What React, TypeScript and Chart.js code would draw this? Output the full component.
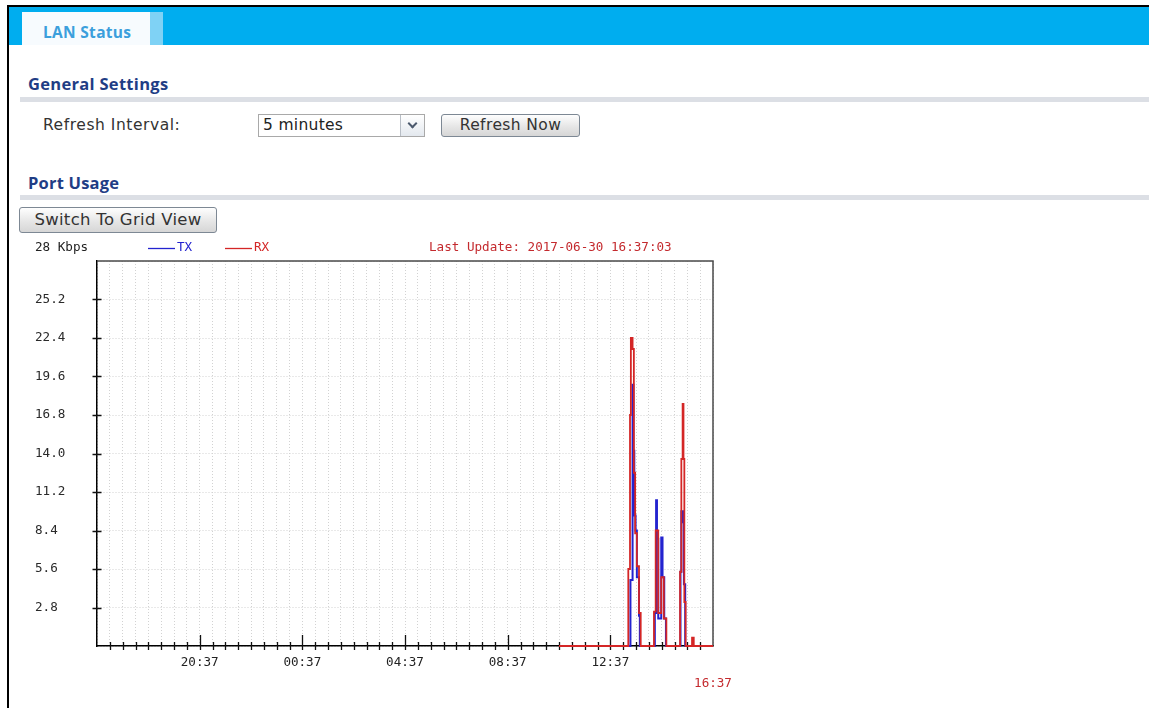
import React, { useEffect, useRef } from 'react';
import { Chart, registerables } from 'chart.js';

Chart.register(...registerables);

// ---- data ----
// x values: minutes since the start of the 24 h window (16:37 of the previous day)
const xTickLabels = ['20:37', '00:37', '04:37', '08:37', '12:37', '16:37'];
const yTickValues = [0, 2.8, 5.6, 8.4, 11.2, 14.0, 16.8, 19.6, 22.4, 25.2, 28];

const txMinutes = [1080, 1247, 1252, 1254, 1256, 1259, 1262, 1267, 1269, 1304, 1307, 1309, 1312, 1319, 1322, 1326, 1330, 1364, 1366, 1370, 1372, 1375, 1440];
const txKbps = [0, 4.8, 19.0, 14.2, 9.5, 8.4, 5.0, 2.2, 0, 2.4, 10.6, 7.8, 2.0, 7.9, 5.0, 2.0, 0, 5.4, 9.8, 9.0, 4.5, 0, 0];

const rxMinutes = [1080, 1242, 1246, 1248, 1252, 1255, 1258, 1262, 1267, 1271, 1302, 1306, 1312, 1319, 1325, 1331, 1363, 1366, 1369, 1371, 1373, 1376, 1391, 1395, 1440];
const rxKbps = [0, 5.6, 16.8, 22.4, 21.6, 12.6, 8.2, 5.8, 2.4, 0, 2.5, 8.4, 2.4, 5.0, 2.0, 0, 5.4, 13.6, 17.6, 13.6, 3.2, 0, 0.6, 0, 0];

const unitLabel = '28 Kbps';
const lastUpdate = 'Last Update: 2017-06-30 16:37:03';

const X_MAX = 1440;
const Y_MAX = 28;
const MONO = '"DejaVu Sans Mono", monospace';
const TX_COLOR = '#2323cf';
const RX_COLOR = '#d42626';
const RED_TEXT = '#c42a2e';

const overlayPlugin = {
  id: 'overlay',
  beforeDatasetsDraw(chart: any) {
    const { ctx, chartArea, scales } = chart;
    const xs = scales.x;
    const ys = scales.y;
    ctx.save();
    ctx.strokeStyle = '#111';
    ctx.lineWidth = 1.3;
    ctx.beginPath();
    xs.ticks.forEach((t: any) => {
      if (t.value <= 0 || t.value >= X_MAX) return;
      const px = Math.round(xs.getPixelForValue(t.value)) + 0.5;
      const major = t.value % 240 === 0;
      ctx.moveTo(px, chartArea.bottom - (major ? 11 : 4));
      ctx.lineTo(px, chartArea.bottom + 4);
    });
    ys.ticks.forEach((t: any) => {
      if (t.value <= 0 || t.value >= Y_MAX) return;
      const py = Math.round(ys.getPixelForValue(t.value)) + 0.5;
      ctx.moveTo(chartArea.left - 4.5, py);
      ctx.lineTo(chartArea.left + 4.5, py);
    });
    ctx.stroke();
    // top and right frame
    ctx.strokeStyle = '#4a4a4a';
    ctx.lineWidth = 1.5;
    ctx.beginPath();
    ctx.moveTo(chartArea.left, chartArea.top);
    ctx.lineTo(chartArea.right, chartArea.top);
    ctx.lineTo(chartArea.right, chartArea.bottom);
    ctx.stroke();
    ctx.restore();
  },
  afterDraw(chart: any) {
    const { ctx, chartArea } = chart;
    const ds = chart.data.datasets;
    const cy = chartArea.top - 13;
    ctx.save();
    ctx.font = `12.6px ${MONO}`;
    ctx.textBaseline = 'middle';
    ctx.textAlign = 'left';
    ctx.fillStyle = '#222';
    ctx.fillText(unitLabel, chartArea.left - 62, cy);
    const legendX = [chartArea.left + 51, chartArea.left + 128];
    ds.forEach((d: any, i: number) => {
      const lx = legendX[i];
      ctx.strokeStyle = d.legendColor;
      ctx.lineWidth = 1.3;
      ctx.beginPath();
      ctx.moveTo(lx, cy + 0.5);
      ctx.lineTo(lx + 27, cy + 0.5);
      ctx.stroke();
      ctx.fillStyle = d.legendColor;
      ctx.fillText(d.label, lx + 29, cy);
    });
    ctx.fillStyle = RED_TEXT;
    ctx.fillText(lastUpdate, chartArea.left + 332, cy);
    ctx.restore();
  },
};

function ChartBox() {
  const ref = useRef<HTMLCanvasElement>(null);
  useEffect(() => {
    const chart = new Chart(ref.current as HTMLCanvasElement, {
      type: 'line',
      data: {
        datasets: [
          {
            label: 'TX',
            legendColor: TX_COLOR,
            data: txMinutes.map((m, i) => ({ x: m, y: txKbps[i] })),
            borderColor: TX_COLOR,
            borderWidth: 2,
            stepped: 'before',
            pointRadius: 0,
            fill: false,
            clip: 4,
            order: 1,
          },
          {
            label: 'RX',
            legendColor: RX_COLOR,
            data: rxMinutes.map((m, i) => ({ x: m, y: rxKbps[i] })),
            borderColor: RX_COLOR,
            borderWidth: 1.8,
            stepped: 'before',
            pointRadius: 0,
            fill: false,
            clip: 4,
            order: 0,
          },
        ] as any,
      },
      plugins: [overlayPlugin],
      options: {
        animation: false,
        responsive: false,
        maintainAspectRatio: false,
        layout: { padding: { left: 15, top: 25, right: 47, bottom: 0 } },
        plugins: { legend: { display: false }, tooltip: { enabled: false }, title: { display: false } },
        scales: {
          x: {
            type: 'linear',
            min: 0,
            max: X_MAX,
            afterBuildTicks: (scale: any) => {
              const t = [];
              for (let m = 0; m <= X_MAX; m += 30) t.push({ value: m });
              scale.ticks = t;
            },
            afterFit: (scale: any) => {
              scale.height = 50;
            },
            grid: { color: '#d2d2d2', lineWidth: 1, drawTicks: false },
            border: { display: true, color: '#000', width: 1.5, dash: [1, 2] },
            ticks: {
              autoSkip: false,
              maxRotation: 0,
              padding: 6,
              font: { family: MONO, size: 12.6, lineHeight: 1.7 },
              color: (c: any) => (c.tick && c.tick.value === X_MAX ? RED_TEXT : '#222'),
              callback: (value: any) => {
                const v = Number(value);
                if (v > 0 && v % 240 === 0) {
                  const lab = xTickLabels[v / 240 - 1];
                  return v === X_MAX ? ['', lab] : lab;
                }
                return '';
              },
            },
          },
          y: {
            type: 'linear',
            min: 0,
            max: Y_MAX,
            afterBuildTicks: (scale: any) => {
              scale.ticks = yTickValues.map((v) => ({ value: v }));
            },
            afterFit: (scale: any) => {
              scale.width = 62;
            },
            grid: { color: '#d2d2d2', lineWidth: 1, drawTicks: false },
            border: { display: true, color: '#000', width: 1.5, dash: [1, 2] },
            ticks: {
              crossAlign: 'far',
              padding: 0,
              font: { family: MONO, size: 12.6 },
              color: '#2a2a2a',
              callback: (value: any) => {
                const v = Number(value);
                if (v <= 0 || v >= Y_MAX) return '';
                return v.toFixed(1);
              },
            },
          },
        },
      } as any,
    });
    return () => chart.destroy();
  }, []);
  return (
    <canvas
      ref={ref}
      width={740}
      height={460}
      style={{ position: 'absolute', left: 20, top: 236, width: 740, height: 460 }}
    />
  );
}

const SANS = '"DejaVu Sans", sans-serif';
const HEAD = '"Open Sans", "Noto Sans", sans-serif';
const NAVY = '#1f3d85';

function Txt(props: { x: number; cy: number; size: number; text: string; bold?: boolean; color?: string; font?: string; ls?: number }) {
  const lh = Math.round(props.size * 1.5);
  return (
    <div
      style={{
        position: 'absolute',
        left: props.x,
        top: props.cy - lh / 2,
        lineHeight: `${lh}px`,
        fontSize: props.size,
        fontWeight: props.bold ? 700 : 400,
        fontFamily: props.font || SANS,
        color: props.color || '#333',
        letterSpacing: props.ls || 0,
        whiteSpace: 'nowrap',
      }}
    >
      {props.text}
    </div>
  );
}

const btnStyle: React.CSSProperties = {
  position: 'absolute',
  boxSizing: 'border-box',
  border: '1px solid #7d8894',
  borderRadius: 3,
  background: 'linear-gradient(#fefefe, #e6e6e6 55%, #d6d6d6)',
  fontFamily: SANS,
  color: '#333',
  textAlign: 'center',
  whiteSpace: 'nowrap',
};

export default function App() {
  return (
    <div style={{ position: 'fixed', left: 0, top: 0, width: 1149, height: 708, overflow: 'hidden', background: '#fff' }}>
      {/* outer frame */}
      <div style={{ position: 'absolute', left: 7, top: 5, width: 2000, height: 2000, borderLeft: '2px solid #000', borderTop: '2px solid #000' }} />
      {/* header bar */}
      <div style={{ position: 'absolute', left: 9, top: 7, width: 1200, height: 38, background: '#00adef' }} />
      <div style={{ position: 'absolute', left: 22, top: 12, width: 141, height: 33, background: '#7fd2f5' }} />
      <div style={{ position: 'absolute', left: 22, top: 12, width: 128, height: 33, background: '#f7fbfe' }} />
      <Txt x={43} cy={32} size={15.5} bold text="LAN Status" color="#3c9fdc" font={HEAD} ls={0.3} />

      <Txt x={28} cy={83} size={16.5} bold text="General Settings" color={NAVY} font={HEAD} ls={0.3} />
      <div style={{ position: 'absolute', left: 20, top: 97, width: 1200, height: 5, background: '#dcdfe5' }} />

      <Txt x={43} cy={125} size={15.5} text="Refresh Interval:" color="#333" ls={0.55} />
      <div style={{ position: 'absolute', left: 258, top: 114, width: 167, height: 23, boxSizing: 'border-box', border: '1px solid #a9a9a9', background: '#fff' }}>
        <div style={{ position: 'absolute', right: 0, top: 0, width: 24, height: 21, boxSizing: 'border-box', borderLeft: '1px solid #b8bec6', background: 'linear-gradient(#ffffff, #e3e8ee)' }}>
          <div style={{ position: 'absolute', left: 8, top: 5, width: 5, height: 5, borderRight: '2px solid #4c5a6e', borderBottom: '2px solid #4c5a6e', transform: 'rotate(45deg)' }} />
        </div>
      </div>
      <Txt x={263} cy={125} size={15.5} text="5 minutes" color="#222" ls={0.3} />
      <div style={{ ...btnStyle, left: 441, top: 114, width: 139, height: 23, lineHeight: '21px', fontSize: 15.5, letterSpacing: 0.4 }}>Refresh Now</div>

      <Txt x={28} cy={182} size={16.5} bold text="Port Usage" color={NAVY} font={HEAD} ls={0.2} />
      <div style={{ position: 'absolute', left: 20, top: 195, width: 1200, height: 5, background: '#dcdfe5' }} />

      <div style={{ ...btnStyle, left: 19, top: 207, width: 198, height: 26, lineHeight: '24px', fontSize: 16.5, letterSpacing: 0.3 }}>Switch To Grid View</div>

      <ChartBox />
    </div>
  );
}
